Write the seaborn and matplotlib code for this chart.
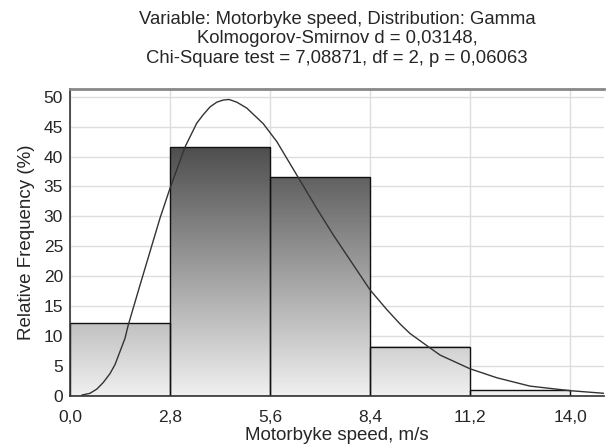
import numpy as np
import matplotlib
matplotlib.use("Agg")
import matplotlib.pyplot as plt
import seaborn as sns
from matplotlib.colors import LinearSegmentedColormap

# histogram bins (m/s) and relative frequency (%)
bin_edges = [0.0, 2.8, 5.6, 8.4, 11.2, 14.0]
rel_freq = [12.2, 41.6, 36.6, 8.2, 0.9]

# fitted gamma curve
curve_x = [0.33, 0.56, 0.75, 0.93, 1.12, 1.26, 1.40, 1.54, 1.63, 1.96, 2.24, 2.52,
           2.80, 3.22, 3.55, 3.73, 3.92, 4.11, 4.29, 4.45, 4.67, 4.95, 5.18, 5.41,
           5.79, 6.35, 6.91, 7.37, 7.93, 8.40, 8.87, 9.24, 9.52, 10.03, 10.36,
           11.20, 11.95, 12.88, 14.00, 14.95]
curve_y = [0.1, 0.4, 1.1, 2.2, 3.7, 5.2, 7.4, 9.6, 11.8, 18.5, 24.1, 29.7,
           34.7, 41.6, 45.6, 47.0, 48.3, 49.1, 49.45, 49.55, 49.1, 48.1, 46.8, 45.5,
           42.5, 36.9, 31.3, 26.9, 21.9, 17.7, 14.4, 12.0, 10.4, 8.2, 6.8,
           4.5, 3.0, 1.6, 0.84, 0.4]

x_ticks = [0.0, 2.8, 5.6, 8.4, 11.2, 14.0]
x_tick_labels = ["0,0", "2,8", "5,6", "8,4", "11,2", "14,0"]
y_ticks = [0, 5, 10, 15, 20, 25, 30, 35, 40, 45, 50]

sns.set_style("white")
plt.rcParams["font.family"] = ["Liberation Sans", "DejaVu Sans"]
fs = 12.5

fig = plt.figure(figsize=(6.06, 4.48), dpi=100)
ax = fig.add_axes([70 / 606, 1 - 395.7 / 448, 534 / 606, 306.7 / 448])

centers = [(a + b) / 2 for a, b in zip(bin_edges[:-1], bin_edges[1:])]
sns.histplot(x=centers, weights=rel_freq, bins=bin_edges, stat="count",
             ax=ax, fill=True, edgecolor="#111111", linewidth=1.0, zorder=2)

# grey gradient fill, dark at top / light at bottom (absolute y scale)
cmap = LinearSegmentedColormap.from_list("g", ["#f0f0f0", "#4e4e4e"])
grad = np.linspace(0, 1, 256).reshape(-1, 1)
top = max(rel_freq)
for p in ax.patches:
    x0 = p.get_x()
    w, h = p.get_width(), p.get_height()
    p.set_facecolor("none")
    ax.imshow(grad * (h / top), cmap=cmap, vmin=0, vmax=1, origin="lower",
              extent=[x0, x0 + w, 0, h], aspect="auto", zorder=1.5,
              interpolation="bilinear")

sns.lineplot(x=curve_x, y=curve_y, ax=ax, color="#333333", linewidth=1.0,
             sort=False, zorder=3)

ax.set_xlim(0, 14.95)
ax.set_ylim(0, 51.3)
ax.set_xticks(x_ticks)
ax.set_xticklabels(x_tick_labels, fontsize=fs)
ax.set_yticks(y_ticks)
ax.tick_params(axis="y", labelsize=fs, length=0, pad=5)
ax.tick_params(axis="x", length=0, pad=10)
ax.grid(True, color="#dddddd", linewidth=1.0, zorder=0)
ax.set_axisbelow(True)

for s in ["left", "bottom"]:
    ax.spines[s].set_color("#333333")
    ax.spines[s].set_linewidth(1.2)
ax.spines["top"].set_color("#888888")
ax.spines["top"].set_linewidth(2)
ax.spines["right"].set_visible(False)

ax.set_xlabel("Motorbyke speed, m/s", fontsize=13.5, labelpad=2)
ax.set_ylabel("Relative Frequency (%)", fontsize=13.5, labelpad=6)
ax.set_title("Variable: Motorbyke speed, Distribution: Gamma\n"
             "Kolmogorov-Smirnov d = 0,03148,\n"
             "Chi-Square test = 7,08871, df = 2, p = 0,06063",
             fontsize=13.3, linespacing=1.17, pad=19)

fig.savefig("out.png", dpi=100)
